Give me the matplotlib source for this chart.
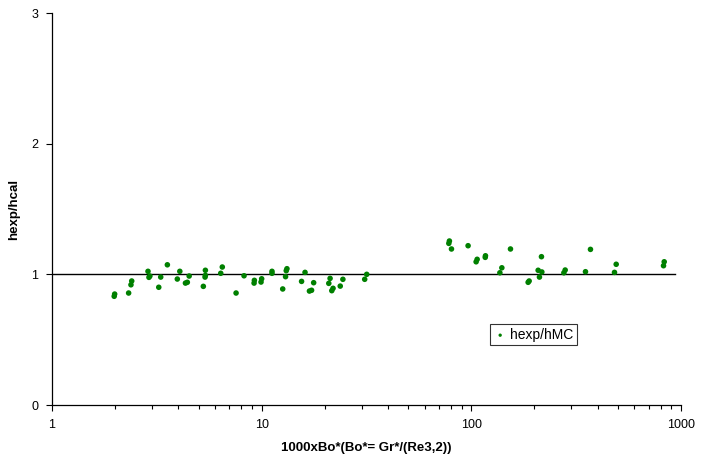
import numpy as np
import matplotlib.pyplot as plt
from matplotlib.ticker import LogLocator, FixedLocator, NullFormatter

plt.rcParams['font.family'] = ['Liberation Sans', 'DejaVu Sans']

# values
bo_star = [1.98, 1.99, 2.32, 2.38, 2.40, 2.87, 2.90, 2.93, 3.23, 3.30,
           3.55, 3.96, 4.07, 4.33, 4.42, 4.51, 5.27, 5.39, 5.39, 5.37,
           6.49, 6.38, 8.24, 7.55, 9.23, 9.20, 10.0, 9.93, 11.2, 11.2,
           13.2, 13.1, 13.0, 12.6, 16.1, 15.5, 17.7, 16.9, 17.3, 21.2,
           20.9, 21.9, 21.6, 23.7, 24.4, 31.7, 31.0,
           78.6, 78.1, 80.4, 96.5, 106.6, 105.4, 116.8, 116.5, 153.7, 139.8,
           136.8, 216.0, 208.3, 216.9, 211.3, 188.7, 186.6, 280.3, 276.3,
           370.0, 350.3, 490.8, 481.7, 831.6, 825.3]
ratio = [0.832, 0.849, 0.857, 0.920, 0.949, 1.023, 0.977, 0.987, 0.901, 0.979,
         1.073, 0.964, 1.023, 0.933, 0.939, 0.987, 0.908, 1.031, 0.992, 0.979,
         1.056, 1.008, 0.989, 0.857, 0.954, 0.933, 0.966, 0.941, 1.023, 1.008,
         1.043, 1.028, 0.982, 0.888, 1.015, 0.946, 0.936, 0.872, 0.878, 0.969,
         0.931, 0.893, 0.875, 0.910, 0.962, 1.000, 0.962,
         1.255, 1.237, 1.194, 1.219, 1.115, 1.096, 1.142, 1.130, 1.194, 1.050,
         1.012, 1.135, 1.031, 1.018, 0.979, 0.949, 0.939, 1.033, 1.012,
         1.191, 1.020, 1.077, 1.015, 1.096, 1.066]
ref_x = [1, 935]
ref_y = [1.0, 1.0]

fig = plt.figure(figsize=(7.07, 4.58), dpi=100)
ax = fig.add_axes([52 / 707, 53 / 458, 629 / 707, 392 / 458])

ax.plot(ref_x, ref_y, color='black', lw=1.0, zorder=2)
ax.scatter(bo_star, ratio, s=16, color='#008000', edgecolors='none',
           label='hexp/hMC', zorder=3)

ax.set_xscale('log')
ax.set_xlim(1, 1000)
ax.set_ylim(0, 3)
ax.xaxis.set_major_locator(FixedLocator([1, 10, 100, 1000]))
ax.set_xticklabels(['1', '10', '100', '1000'])
ax.xaxis.set_minor_locator(LogLocator(base=10, subs=np.arange(2, 10)))
ax.xaxis.set_minor_formatter(NullFormatter())
ax.set_yticks([0, 1, 2, 3])

ax.spines['top'].set_visible(False)
ax.spines['right'].set_visible(False)
for s in ['left', 'bottom']:
    ax.spines[s].set_linewidth(0.9)
ax.tick_params(axis='both', which='major', direction='out', length=4,
               width=0.8, labelsize=9, pad=6)
ax.tick_params(axis='x', which='minor', direction='out', length=3, width=0.8)

ax.set_xlabel('1000xBo*(Bo*= Gr*/(Re3,2))', fontsize=9.5, fontweight='bold',
              labelpad=8)
ax.set_ylabel('hexp/hcal', fontsize=9.5, fontweight='bold', labelpad=8)

leg = ax.legend(loc='center', bbox_to_anchor=(0.765, 0.179), fontsize=10,
                frameon=True, fancybox=False, edgecolor='black',
                handletextpad=0.2, borderpad=0.25, markerscale=0.6,
                handlelength=1.0, borderaxespad=0)
leg.get_frame().set_linewidth(0.8)

fig.savefig('out.png', dpi=100)
